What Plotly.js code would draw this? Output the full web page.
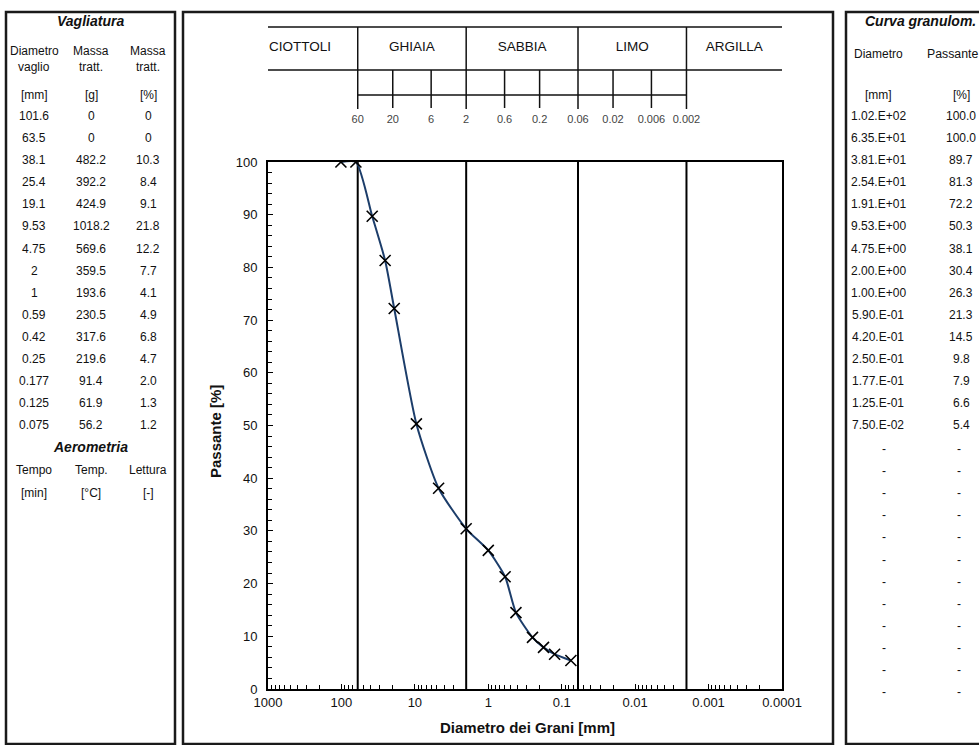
<!DOCTYPE html>
<html>
<head>
<meta charset="utf-8">
<script src="https://cdn.plot.ly/plotly-3.0.1.min.js"></script>
<style>html,body{margin:0;padding:0;background:#fff;}#chart{width:979px;height:745px;}</style>
</head>
<body>
<div id="chart"></div>
<script>
// ---------------- DATA ----------------
const sieveDiam = [101.6, 63.5, 38.1, 25.4, 19.1, 9.53, 4.75, 2, 1, 0.59, 0.42, 0.25, 0.177, 0.125, 0.075];
const massG     = [0, 0, 482.2, 392.2, 424.9, 1018.2, 569.6, 359.5, 193.6, 230.5, 317.6, 219.6, 91.4, 61.9, 56.2];
const massPct   = [0, 0, 10.3, 8.4, 9.1, 21.8, 12.2, 7.7, 4.1, 4.9, 6.8, 4.7, 2.0, 1.3, 1.2];
const passing   = [100.0, 100.0, 89.7, 81.3, 72.2, 50.3, 38.1, 30.4, 26.3, 21.3, 14.5, 9.8, 7.9, 6.6, 5.4];
const emptyRows = 12;

const classNames  = ['CIOTTOLI', 'GHIAIA', 'SABBIA', 'LIMO', 'ARGILLA'];
const classBounds = [60, 2, 0.06, 0.002];
const scaleTicks  = [60, 20, 6, 2, 0.6, 0.2, 0.06, 0.02, 0.006, 0.002];
const scaleLabels = ['60', '20', '6', '2', '0.6', '0.2', '0.06', '0.02', '0.006', '0.002'];

const xTickVals  = [1000, 100, 10, 1, 0.1, 0.01, 0.001, 0.0001];
const xTickText  = ['1000', '100', '10', '1', '0.1', '0.01', '0.001', '0.0001'];
const xRangeData = [1000, 0.0001];

// ---------------- LAYOUT HELPERS ----------------
const W = 979, H = 745;
const px = x => x / W;
const py = y => 1 - y / H;
const FONT = 'Arial, "Liberation Sans", sans-serif';
const ann = [];
function txt(x, y, text, o) {
  o = o || {};
  ann.push({
    xref: 'paper', yref: 'paper', x: px(x), y: py(y), text: text, showarrow: false,
    xanchor: o.xanchor || 'center', yanchor: 'middle', textangle: o.angle || 0,
    font: {family: FONT, size: o.size || 12, color: o.color || '#111', weight: o.weight || 'normal', style: o.style || 'normal'}
  });
}
const fmt1 = v => v === 0 ? '0' : v.toFixed(1);
function fmtE(v) {
  const e = Math.floor(Math.log10(v));
  const m = v / Math.pow(10, e);
  const sign = e < 0 ? '-' : '+';
  return m.toFixed(2) + '.E' + sign + String(Math.abs(e)).padStart(2, '0');
}

// ---------------- TABLES ----------------
const row0 = 116, rowStep = 22.1;
const lc = [34, 91, 148];
txt(90, 21, 'Vagliatura', {size: 14, weight: 'bold', style: 'italic'});
txt(lc[0], 51, 'Diametro', {size: 12}); txt(lc[0], 67, 'vaglio', {size: 12});
txt(lc[1], 51, 'Massa', {size: 12});    txt(lc[1], 67, 'tratt.', {size: 12});
txt(lc[2], 51, 'Massa', {size: 12});    txt(lc[2], 67, 'tratt.', {size: 12});
txt(lc[0], 95, '[mm]', {size: 12}); txt(lc[1], 95, '[g]', {size: 12}); txt(lc[2], 95, '[%]', {size: 12});
sieveDiam.forEach((d, i) => {
  const y = row0 + i * rowStep;
  txt(lc[0], y, String(d));
  txt(lc[1], y, fmt1(massG[i]));
  txt(lc[2], y, fmt1(massPct[i]));
});
txt(90, 447, 'Aerometria', {size: 14, weight: 'bold', style: 'italic'});
txt(lc[0], 470, 'Tempo', {size: 12}); txt(lc[1], 470, 'Temp.', {size: 12}); txt(lc[2], 470, 'Lettura', {size: 12});
txt(lc[0], 493, '[min]', {size: 12}); txt(lc[1], 493, '[°C]', {size: 12}); txt(lc[2], 493, '[-]', {size: 12});

const rc = [878, 961];
txt(920, 21, 'Curva granulom.', {size: 14, weight: 'bold', style: 'italic'});
txt(rc[0], 54, 'Diametro', {size: 12});
txt(925, 54, 'Passante', {size: 12.3, xanchor: 'left'});
txt(rc[0], 95, '[mm]', {size: 12}); txt(rc[1], 95, '[%]', {size: 12});
sieveDiam.forEach((d, i) => {
  const y = row0 + i * rowStep;
  txt(rc[0], y, fmtE(d));
  txt(rc[1], y, passing[i].toFixed(1));
});
for (let i = 0; i < emptyRows; i++) {
  const y = 449 + i * rowStep;
  txt(rc[0] + 6, y, '-'); txt(rc[1] - 2, y, '-');
}

txt(215, 432, 'Passante [%]', {size: 15, weight: 'bold', angle: -90});
txt(527, 727, 'Diametro dei Grani [mm]', {size: 15, weight: 'bold'});

// ---------------- PANEL BORDERS ----------------
const shapes = [];
function box(x0, y0, x1, y1) {
  shapes.push({type: 'rect', xref: 'paper', yref: 'paper', x0: px(x0), x1: px(x1), y0: py(y1), y1: py(y0),
               line: {color: '#1a1a1a', width: 2.5}, fillcolor: 'rgba(0,0,0,0)'});
}
box(6, 12, 175, 744);
box(183, 12, 833, 744);
box(846, 12, 990, 744);

// ---------------- TRACES ----------------
const traces = [];
const bx = [], by = [];
classBounds.forEach(b => { bx.push(b, b, null); by.push(0, 100, null); });
traces.push({x: bx, y: by, mode: 'lines', line: {color: '#000', width: 2}, hoverinfo: 'skip', showlegend: false});

traces.push({
  x: sieveDiam, y: passing, mode: 'lines+markers', showlegend: false,
  line: {color: '#1c3d6a', width: 2, shape: 'spline', smoothing: 0.6},
  marker: {symbol: 'x-thin', size: 11, color: '#000', line: {color: '#000', width: 1.6}}
});

const dg = {top: 27, mid: 70, scale: 95, tickEnd: 109, label: 120, name: 48};
const hx = [xRangeData[0], xRangeData[1], null, xRangeData[0], xRangeData[1], null,
            classBounds[0], classBounds[classBounds.length - 1]];
const hy = [dg.top, dg.top, null, dg.mid, dg.mid, null, dg.scale, dg.scale];
traces.push({x: hx, y: hy, xaxis: 'x2', yaxis: 'y2', mode: 'lines', line: {color: '#111', width: 1.5},
             hoverinfo: 'skip', showlegend: false, cliponaxis: false});
const vx = [], vy = [];
scaleTicks.forEach(t => {
  const isBound = classBounds.indexOf(t) >= 0;
  vx.push(t, t, null);
  vy.push(isBound ? dg.top : dg.mid, isBound ? dg.tickEnd : dg.tickEnd - 1, null);
});
traces.push({x: vx, y: vy, xaxis: 'x2', yaxis: 'y2', mode: 'lines', line: {color: '#111', width: 1.5},
             hoverinfo: 'skip', showlegend: false, cliponaxis: false});
traces.push({x: scaleTicks, y: scaleTicks.map(() => dg.label), text: scaleLabels, xaxis: 'x2', yaxis: 'y2',
             mode: 'text', textfont: {family: FONT, size: 11, color: '#444'}, hoverinfo: 'skip',
             showlegend: false, cliponaxis: false});
const segs = [xRangeData[0]].concat(classBounds, [xRangeData[1]]);
const nameX = classNames.map((n, i) => Math.sqrt(segs[i] * segs[i + 1]));
nameX[0] = nameX[0] * 1.5;
traces.push({x: nameX, y: classNames.map(() => dg.name), text: classNames, xaxis: 'x2', yaxis: 'y2',
             mode: 'text', textfont: {family: FONT, size: 13.5, color: '#111'}, hoverinfo: 'skip',
             showlegend: false, cliponaxis: false});

// ---------------- LAYOUT ----------------
const logRange = [Math.log10(xRangeData[0]), Math.log10(xRangeData[1])];
const layout = {
  width: W, height: H, margin: {l: 0, r: 0, t: 0, b: 0},
  paper_bgcolor: '#fff', plot_bgcolor: '#fff',
  font: {family: FONT, size: 13, color: '#111'},
  showlegend: false,
  xaxis: {
    domain: [px(268), px(782)], type: 'log', range: logRange, anchor: 'y',
    tickmode: 'array', tickvals: xTickVals, ticktext: xTickText,
    ticks: 'inside', ticklen: 5, tickcolor: '#000', tickwidth: 1,
    minor: {ticks: 'inside', ticklen: 4, dtick: 'D1', tickcolor: '#000', tickwidth: 1, showgrid: false},
    showline: true, linecolor: '#000', linewidth: 2, mirror: true, showgrid: false, zeroline: false,
    tickfont: {family: FONT, size: 13, color: '#111'}
  },
  yaxis: {
    domain: [py(689), py(162)], range: [0, 100], anchor: 'x',
    tickmode: 'linear', tick0: 0, dtick: 10,
    ticks: 'inside', ticklen: 5, tickcolor: '#000', tickwidth: 1, ticklabelstandoff: 6,
    minor: {ticks: 'inside', ticklen: 4, dtick: 2, tickcolor: '#000', tickwidth: 1, showgrid: false},
    showline: true, linecolor: '#000', linewidth: 2, mirror: true, showgrid: false, zeroline: false,
    tickfont: {family: FONT, size: 13, color: '#111'}
  },
  xaxis2: {domain: [px(268), px(782)], type: 'log', range: logRange, anchor: 'y2', visible: false},
  yaxis2: {domain: [py(135), py(15)], range: [135, 15], anchor: 'x2', visible: false},
  annotations: ann,
  shapes: shapes
};

Plotly.newPlot('chart', traces, layout, {staticPlot: true, displayModeBar: false});
</script>
</body>
</html>
